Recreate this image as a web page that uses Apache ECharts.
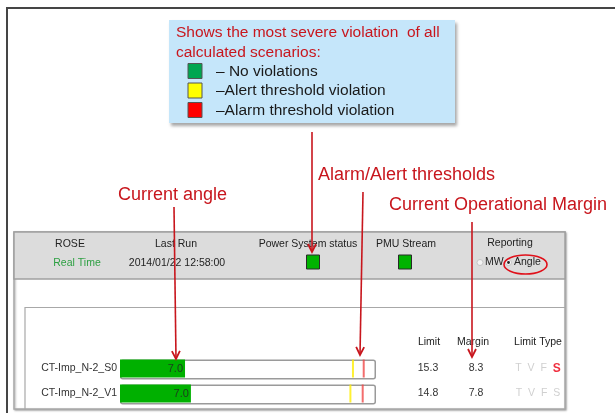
<!DOCTYPE html>
<html>
<head>
<meta charset="utf-8">
<script src="https://cdn.jsdelivr.net/npm/echarts@6/dist/echarts.min.js"></script>
<style>html,body{margin:0;padding:0;background:#fff}#c{width:615px;height:413px}</style>
</head>
<body>
<div id="c"></div>
<script>
// ---- data ----
var scenarios = ['CT-Imp_N-2_S0', 'CT-Imp_N-2_V1'];
var angleValues = [7.0, 7.0];            // displayed current angle
var fillPercent = [25.4, 27.7];          // green fill length, % of bar
var alertPos = [91.0, 90.0];             // alert threshold position, % of bar
var alarmPos = [95.2, 94.8];             // alarm threshold position, % of bar
var limits = ['15.3', '14.8'];
var margins = ['8.3', '7.8'];
var violatedType = ['S', ''];            // which limit type is violated
var limitTypes = ['T', 'V', 'F', 'S'];

var NARROW = '"Liberation Sans", Arial, sans-serif';
var SANS = '"Liberation Sans", Arial, sans-serif';
var UI = 10.5;
var RED = '#c8161d';

var chart = echarts.init(document.getElementById('c'), null, {renderer: 'canvas'});

function txt(text, x, y, opt) {
  opt = opt || {};
  return {
    type: 'text', z: opt.z || 50,
    style: {
      text: text, x: x, y: y,
      align: opt.align || 'center', verticalAlign: 'middle',
      fontSize: opt.size || UI, fontFamily: opt.family || NARROW,
      fontWeight: opt.weight || 'normal',
      fill: opt.color || '#222'
    }
  };
}
function arrow(x1, y1, x2, y2) {
  var dx = x2 - x1, dy = y2 - y1, L = Math.sqrt(dx * dx + dy * dy);
  var ux = dx / L, uy = dy / L, px = -uy, py = ux, h = 8, w = 4;
  return [
    {type: 'line', z: 100, shape: {x1: x1, y1: y1, x2: x2, y2: y2},
     style: {stroke: RED, lineWidth: 1.6}},
    {type: 'polyline', z: 100,
     shape: {points: [[x2 - ux * h + px * w, y2 - uy * h + py * w], [x2, y2], [x2 - ux * h - px * w, y2 - uy * h - py * w]]},
     style: {stroke: RED, lineWidth: 1.8, fill: null}}
  ];
}

var g = [];
// outer frame
g.push({type: 'line', z: 1, shape: {x1: 6, y1: 8, x2: 615, y2: 8}, style: {stroke: '#454545', lineWidth: 2}});
g.push({type: 'line', z: 1, shape: {x1: 7, y1: 8, x2: 7, y2: 413}, style: {stroke: '#454545', lineWidth: 2}});

// blue note box
g.push({type: 'rect', z: 5, shape: {x: 169, y: 20, width: 286, height: 103},
  style: {fill: '#c5e6fa', shadowBlur: 3, shadowOffsetX: 2, shadowOffsetY: 3, shadowColor: 'rgba(0,0,0,0.35)'}});
g.push(txt('Shows the most severe violation  of all', 176, 33, {align: 'left', size: 15.5, family: SANS, color: RED}));
g.push(txt('calculated scenarios:', 176, 53, {align: 'left', size: 15.5, family: SANS, color: RED}));
var legendColors = ['#00a651', '#ffff00', '#ff0000'];
var legendTexts = ['\u2013 No violations', '\u2013Alert threshold violation', '\u2013Alarm threshold violation'];
for (var i = 0; i < 3; i++) {
  g.push({type: 'rect', z: 6, shape: {x: 188, y: 63.5 + i * 19.5, width: 14, height: 15},
    style: {fill: legendColors[i], stroke: '#555', lineWidth: 1}});
  g.push(txt(legendTexts[i], 216, 71.5 + i * 19.5, {align: 'left', size: 15.5, family: SANS, color: '#1a1a1a'}));
}

// annotations
g.push(txt('Alarm/Alert thresholds', 318, 175, {align: 'left', size: 18, family: SANS, color: RED}));
g.push(txt('Current angle', 118, 195, {align: 'left', size: 18, family: SANS, color: RED}));
g.push(txt('Current Operational Margin', 389, 205, {align: 'left', size: 18, family: SANS, color: RED}));

// header panel
g.push({type: 'rect', z: 2, shape: {x: 14, y: 232, width: 551, height: 177},
  style: {fill: '#ffffff', stroke: '#a8a8a8', lineWidth: 1.5, shadowBlur: 2, shadowOffsetX: 1, shadowOffsetY: 1, shadowColor: 'rgba(0,0,0,0.3)'}});
g.push({type: 'rect', z: 3, shape: {x: 14, y: 232, width: 551, height: 47},
  style: {fill: '#dcdcdc', stroke: '#a0a0a0', lineWidth: 1.5}});
g.push({type: 'polyline', z: 3, shape: {points: [[25, 410], [25, 307.5], [565, 307.5]]},
  style: {stroke: '#a8a8a8', lineWidth: 1.2, fill: null}});

g.push(txt('ROSE', 70, 244));
g.push(txt('Real Time', 77, 263, {color: '#2ea043'}));
g.push(txt('Last Run', 176, 244));
g.push(txt('2014/01/22 12:58:00', 177, 263));
g.push(txt('Power System status', 308, 244));
g.push(txt('PMU Stream', 406, 244));
g.push(txt('Reporting', 510, 243));
g.push({type: 'rect', z: 10, shape: {x: 306.5, y: 255, width: 13, height: 14}, style: {fill: '#00b300', stroke: '#2a2a2a', lineWidth: 1}});
g.push({type: 'rect', z: 10, shape: {x: 398.5, y: 255, width: 13, height: 14}, style: {fill: '#00b300', stroke: '#2a2a2a', lineWidth: 1}});
g.push({type: 'circle', z: 10, shape: {cx: 480, cy: 262.5, r: 3}, style: {fill: '#f4f4f4', stroke: '#bbb', lineWidth: 0.8}});
g.push(txt('MW', 485, 262.5, {align: 'left'}));
g.push({type: 'circle', z: 10, shape: {cx: 508.5, cy: 262.5, r: 3}, style: {fill: '#f4f4f4', stroke: '#bbb', lineWidth: 0.8}});
g.push({type: 'circle', z: 11, shape: {cx: 508.5, cy: 262.5, r: 1.4}, style: {fill: '#222'}});
g.push(txt('Angle', 514, 262.5, {align: 'left'}));
g.push({type: 'ellipse', z: 12, shape: {cx: 525.5, cy: 264.5, rx: 21.5, ry: 9.5}, style: {fill: null, stroke: '#e0101a', lineWidth: 1.6}});

// table headers
g.push(txt('Limit', 429, 342));
g.push(txt('Margin', 473, 342));
g.push(txt('Limit Type', 538, 342));

// arrows
g = g.concat(arrow(312, 132, 312, 252));
g = g.concat(arrow(363, 192, 360, 355));
g = g.concat(arrow(174, 207, 176, 359));
g = g.concat(arrow(472, 222, 472, 357));

var frameData = scenarios.map(function () { return 100; });
var alertData = scenarios.map(function (s, i) { return [alertPos[i], s]; });
var alarmData = scenarios.map(function (s, i) { return [alarmPos[i], s]; });

var typeLabels = scenarios.map(function (s, i) {
  return limitTypes.map(function (t) {
    return (t === violatedType[i] ? '{on|' : '{off|') + t + '}';
  }).join(' ');
});

var richType = {
  off: {color: '#d0d0d0', fontSize: UI, fontFamily: NARROW, padding: [0, 1.5]},
  on: {color: '#f03040', fontSize: 12, fontWeight: 'bold', fontFamily: NARROW, padding: [0, 1.5]}
};

function rightAxis(data, offset, extra) {
  var lbl = {color: '#333', fontFamily: NARROW, fontSize: UI, margin: 0, align: 'center'};
  if (extra) for (var k in extra) lbl[k] = extra[k];
  return {type: 'category', data: data, inverse: true, position: 'right', offset: offset, z: 20,
    axisLine: {show: false}, axisTick: {show: false}, splitLine: {show: false}, axisLabel: lbl};
}

chart.setOption({
  animation: false,
  graphic: g,
  grid: {left: 120, width: 256, top: 356, height: 50, containLabel: false},
  xAxis: {type: 'value', min: 0, max: 100, show: false},
  yAxis: [
    {type: 'category', data: scenarios, inverse: true, z: 20,
     axisLine: {show: false}, axisTick: {show: false},
     axisLabel: {color: '#333', fontFamily: NARROW, fontSize: UI, margin: 3}},
    rightAxis(limits, 52),
    rightAxis(margins, 100),
    rightAxis(typeLabels, 162, {rich: richType})
  ],
  series: [
    {type: 'bar', data: frameData, barWidth: 20, z: 3, silent: true,
     itemStyle: {color: '#ffffff', borderColor: '#9a9a9a', borderWidth: 1.5, borderRadius: 2}},
    {type: 'bar', data: fillPercent, barWidth: 18, barGap: '-100%', z: 4,
     itemStyle: {color: '#00b000'},
     label: {show: true, position: 'insideRight', distance: 2,
       formatter: function (p) { return angleValues[p.dataIndex].toFixed(1); },
       color: '#1d3a1d', fontFamily: NARROW, fontSize: 11}},
    {type: 'scatter', data: alertData, symbol: 'rect', symbolSize: [2, 18], z: 5,
     itemStyle: {color: '#ffee00'}},
    {type: 'scatter', data: alarmData, symbol: 'rect', symbolSize: [2, 18], z: 5,
     itemStyle: {color: '#f04848'}}
  ]
});
</script>
</body>
</html>
